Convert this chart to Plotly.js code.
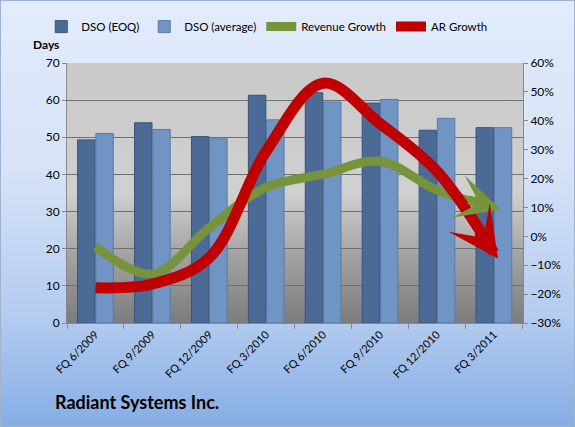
<!DOCTYPE html>
<html><head><meta charset="utf-8">
<script src="https://cdn.plot.ly/plotly-3.0.1.min.js"></script>
<style>
html,body{margin:0;padding:0;}
#chart{width:575px;height:427px;box-sizing:border-box;border:1px solid #9fb3cf;
background:linear-gradient(to bottom,#e2ecfb 0%,#d5e2f8 40%,#b3cbef 75%,#86ade4 100%);}
</style></head><body>
<div id="chart"></div>
<script>
var categories = ["FQ 6/2009","FQ 9/2009","FQ 12/2009","FQ 3/2010","FQ 6/2010","FQ 9/2010","FQ 12/2010","FQ 3/2011"];
var dsoEOQ = [49.3, 53.9, 50.2, 61.3, 62.0, 59.2, 51.9, 52.6];
var dsoAvg = [51.0, 52.1, 49.6, 54.7, 59.5, 60.2, 55.1, 52.6];
var revenueGrowth = [-0.036, -0.13, 0.03, 0.17, 0.215, 0.26, 0.16, 0.10];
var arGrowth = [-0.178, -0.165, -0.074, 0.295, 0.53, 0.39, 0.225, -0.057];

var n = categories.length;
var font = "Lato, 'Open Sans', sans-serif";
var bgSvg = '<svg xmlns="http://www.w3.org/2000/svg" width="100" height="100" preserveAspectRatio="none"><defs><linearGradient id="g" x1="0" y1="0" x2="0" y2="1"><stop offset="0" stop-color="#c9c9c9"/><stop offset="0.5" stop-color="#d0d0d0"/><stop offset="0.75" stop-color="#a1a1a1"/><stop offset="1" stop-color="#7c7c7c"/></linearGradient></defs><rect width="100" height="100" fill="url(#g)"/></svg>';

var traces = [
  {type:'bar', name:'DSO (EOQ)', x:categories, y:dsoEOQ,
   marker:{color:'#4b6b96', line:{color:'#3a5378', width:1}}},
  {type:'bar', name:'DSO (average)', x:categories, y:dsoAvg,
   marker:{color:'#7094c4', line:{color:'#5a7aa6', width:1}}},
  {type:'scatter', mode:'lines', name:'Revenue Growth', x:categories, y:revenueGrowth, yaxis:'y2',
   line:{color:'#77933c', width:9, shape:'spline', smoothing:1}},
  {type:'scatter', mode:'lines', name:'AR Growth', x:categories, y:arGrowth, yaxis:'y2',
   line:{color:'#c00000', width:11, shape:'spline', smoothing:1}}
];

var layout = {
  width:575, height:427,
  paper_bgcolor:'rgba(0,0,0,0)', plot_bgcolor:'rgba(0,0,0,0)',
  margin:{l:66, r:53, t:62, b:105, autoexpand:false},
  font:{family:font, size:12, color:'#000'},
  barmode:'group', bargap:0.36, bargroupgap:0.04,
  showlegend:true,
  legend:{orientation:'h', xref:'container', yref:'container', x:0.07, xanchor:'left', y:0.94, yanchor:'middle',
    bgcolor:'rgba(0,0,0,0)', font:{size:11.5}},
  xaxis:{type:'category', tickangle:-45, ticks:'outside', tickson:'boundaries', ticklen:5, tickcolor:'#888',
    showline:true, linecolor:'#888', showgrid:false, tickfont:{size:11}},
  yaxis:{range:[0,70], dtick:10, showgrid:true, gridcolor:'#6f6f6f', gridwidth:1, zeroline:false,
    ticks:'outside', ticklen:4, tickcolor:'#888', showline:true, linecolor:'#888', tickfont:{size:12}},
  yaxis2:{range:[-0.3,0.6], dtick:0.1, tickformat:'.0%', overlaying:'y', side:'right', showgrid:false, zeroline:false,
    ticks:'outside', ticklen:4, tickcolor:'#888', showline:true, linecolor:'#888', tickfont:{size:12}},
  images:[{source:'data:image/svg+xml;charset=utf-8,'+encodeURIComponent(bgSvg), xref:'paper', yref:'paper',
    x:0, y:1, sizex:1, sizey:1, sizing:'stretch', xanchor:'left', yanchor:'top', layer:'below'}],
  annotations:[
    {text:'<b>Days</b>', xref:'paper', yref:'paper', x:-0.08, y:1.035, xanchor:'left', yanchor:'bottom', showarrow:false, font:{size:12}},
    {text:'<b>Radiant Systems Inc.</b>', xref:'paper', yref:'paper', x:-0.03, y:-0.255, xanchor:'left', yanchor:'top', showarrow:false, font:{size:18}}
  ]
};
Plotly.newPlot('chart', traces, layout, {displayModeBar:false, staticPlot:true}).then(function(gd){
  var xa = gd._fullLayout.xaxis, ya = gd._fullLayout.yaxis2;
  function head(vals, color, w, sz){
    var x1 = xa.c2p(n-1), y1 = ya.c2p(vals[n-1]);
    var x0 = xa.c2p(n-2), y0 = ya.c2p(vals[n-2]);
    var dx = x1-x0, dy = y1-y0, L = Math.sqrt(dx*dx+dy*dy), ux = dx/L, uy = dy/L;
    var len = 35, fwd = 7;
    return {x:n-1, y:vals[n-1], xref:'x', yref:'y2', axref:'pixel', ayref:'pixel',
      ax:-ux*len, ay:-uy*len, xshift:ux*fwd, yshift:-uy*fwd, showarrow:true, arrowhead:3, arrowsize:sz, arrowwidth:w,
      arrowcolor:color, text:'', standoff:0};
  }
  var anns = gd.layout.annotations.slice();
  anns.push(head(revenueGrowth, '#77933c', 9, 0.82));
  anns.push(head(arGrowth, '#c00000', 11, 0.76));
  return Plotly.relayout(gd, {annotations: anns});
});
</script></body></html>
